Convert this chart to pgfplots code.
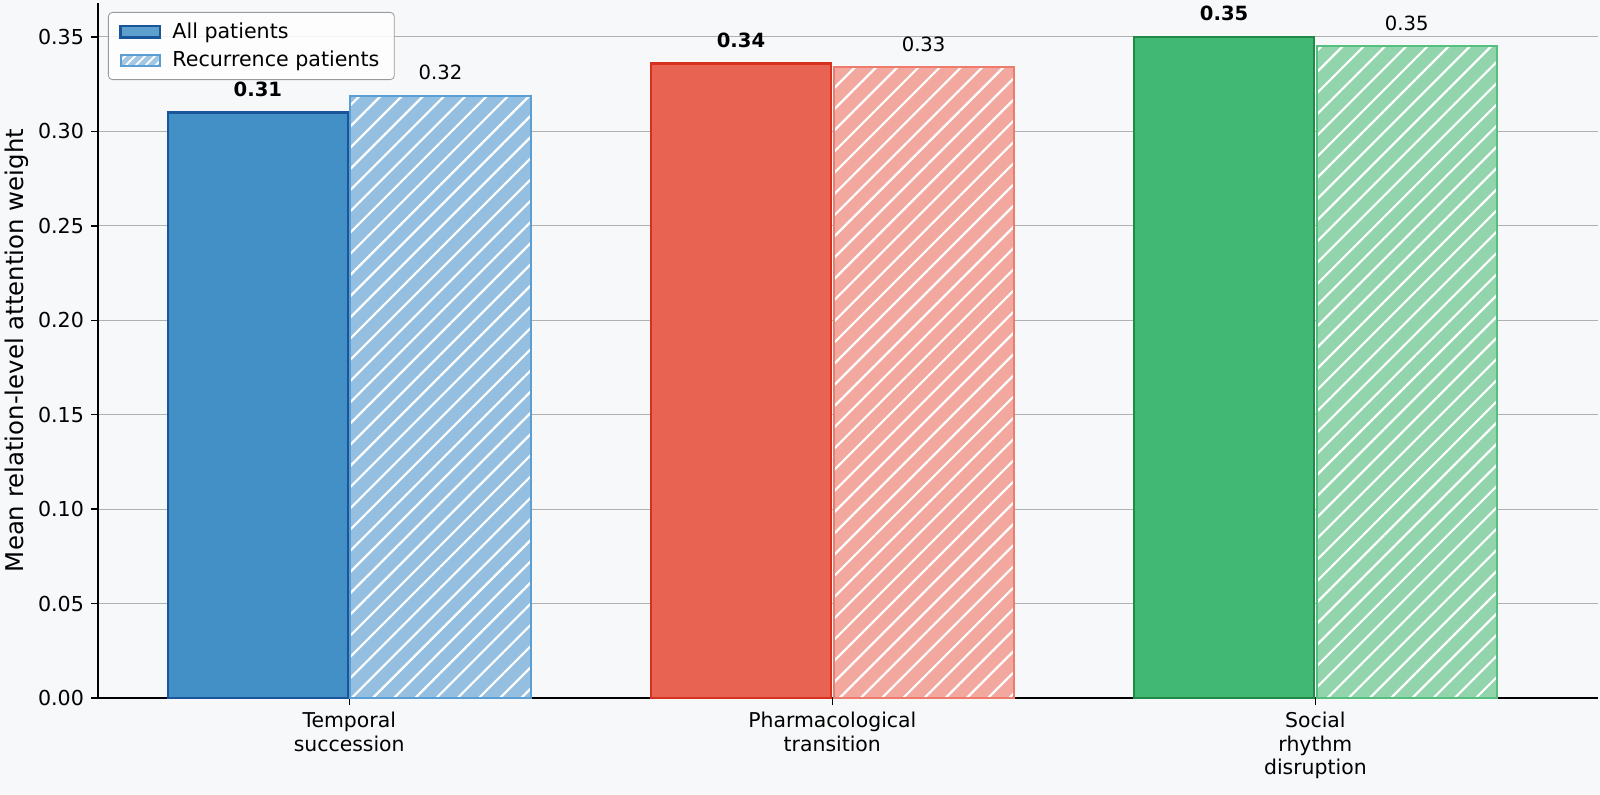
\documentclass[border=0pt]{standalone}
\usepackage{pgfplots}
\pgfplotsset{compat=1.18}
\usepackage{fontspec}
\setmainfont{DejaVu Sans}
\usetikzlibrary{patterns.meta,backgrounds,calc}
\definecolor{bgc}{HTML}{F7F8FA}
\definecolor{bA}{HTML}{4290C5}\definecolor{bAe}{HTML}{1A5599}
\definecolor{bR}{HTML}{95BFE0}\definecolor{bRe}{HTML}{5B9ED3}
\definecolor{rA}{HTML}{E96352}\definecolor{rAe}{HTML}{D7301F}
\definecolor{rR}{HTML}{F2A89E}\definecolor{rRe}{HTML}{EE7B6C}
\definecolor{gA}{HTML}{41B874}\definecolor{gAe}{HTML}{1E8A45}
\definecolor{gR}{HTML}{92D4AB}\definecolor{gRe}{HTML}{55BF80}
\definecolor{gridc}{HTML}{B0B0B0}
\pgfplotsset{
  allbar/.style={ybar, bar width=0.373, bar shift=0pt, line width=1.2bp,
    nodes near coords={\textbf{\pgfplotspointmeta}}, point meta=explicit symbolic,
    nodes near coords style={font=\fontsize{9.8bp}{11bp}\selectfont, anchor=south, yshift=4bp}},
  recbar/.style={ybar, bar width=0.373, bar shift=0pt, line width=1bp,
    postaction={pattern={Lines[angle=45,distance=7.5bp,line width=1.1bp]}, pattern color=white},
    nodes near coords={\pgfplotspointmeta}, point meta=explicit symbolic,
    nodes near coords style={font=\fontsize{9.8bp}{11bp}\selectfont, anchor=south, yshift=4bp}},
}
\begin{document}
\begin{tikzpicture}
\begin{axis}[
  name=ax,
  scale only axis, width=750bp, height=347.5bp,
  xmin=-0.52, xmax=2.585, ymin=0, ymax=0.368,
  axis x line=bottom, axis y line=left,
  axis line style={line width=0.9bp, -},
  xtick={0,1,2},
  xticklabels={{Temporal\\succession},{Pharmacological\\transition},{Social\\rhythm\\disruption}},
  xticklabel style={align=center, font=\fontsize{10.2bp}{11.8bp}\selectfont},
  ytick={0,0.05,...,0.35},
  yticklabel style={/pgf/number format/.cd, fixed, fixed zerofill, precision=2, /tikz/.cd, font=\fontsize{10.3bp}{12bp}\selectfont},
  /pgf/number format/assume math mode=true,
  tick style={black, line width=0.7bp},
  major tick length=3.5bp,
  tick align=outside,
  ymajorgrids, grid style={gridc, line width=0.5bp},
  ylabel={Mean relation-level attention weight},
  every axis y label/.style={at={(rel axis cs:0,0.5)}, xshift=-40.5bp, rotate=90, anchor=center,
    font=\fontsize{12.2bp}{14bp}\selectfont},
  legend style={at={(rel axis cs:0,1)}, anchor=north west, xshift=5bp, yshift=-4.5bp,
    draw=gray!80, rounded corners=2bp, fill=white, fill opacity=0.85, text opacity=1,
    font=\fontsize{10.3bp}{12.5bp}\selectfont, row sep=1bp, inner xsep=5.5bp, inner ysep=3bp},
  legend cell align=left,
  legend image code/.code={\draw[#1, sharp corners] (0cm,-0.1cm) rectangle (0.7cm,0.1cm); \path (0.7cm+3.5bp,0);},
]
\addplot[allbar, fill=bA, draw=bAe, forget plot] coordinates {(-0.189,0.310) [0.31]};
\addplot[recbar, fill=bR, draw=bRe, forget plot] coordinates {(0.189,0.319) [0.32]};
\addplot[allbar, fill=rA, draw=rAe, forget plot] coordinates {(0.811,0.336) [0.34]};
\addplot[recbar, fill=rR, draw=rRe, forget plot] coordinates {(1.189,0.334) [0.33]};
\addplot[allbar, fill=gA, draw=gAe, forget plot] coordinates {(1.811,0.350) [0.35]};
\addplot[recbar, fill=gR, draw=gRe, forget plot] coordinates {(2.189,0.345) [0.35]};
\addlegendimage{fill=bA, draw=bAe, line width=1.2bp}
\addlegendentry{All patients}
\addlegendimage{fill=bR, draw=bRe, line width=1bp, postaction={pattern={Lines[angle=45,distance=3.5bp,line width=0.9bp]}, pattern color=white}}
\addlegendentry{Recurrence patients}
\end{axis}
\pgfresetboundingbox
\path[use as bounding box] ($(ax.south west)+(-49bp,-48.5bp)$) rectangle +(800bp,397.5bp);
\begin{scope}[on background layer]
\fill[bgc] ($(ax.south west)+(-49bp,-48.5bp)$) rectangle +(800bp,397.5bp);
\end{scope}
\end{tikzpicture}
\end{document}
